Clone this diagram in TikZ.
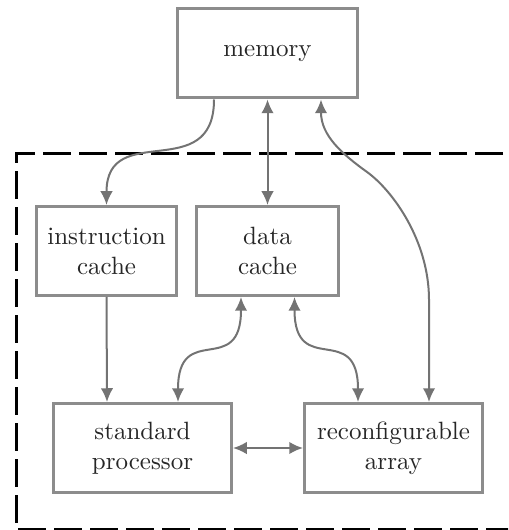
\documentclass[tikz,border=0pt]{standalone}
\usetikzlibrary{arrows.meta}
\begin{document}
\begin{tikzpicture}[x=0.4pt,y=-0.4pt,
  box/.style={draw=black!45,line width=1.2pt,fill=white,align=center,inner sep=0pt,
    minimum height=35.6pt,text=black!85,font=\normalsize},
  conn/.style={draw=black!55,line width=0.8pt},
  tip/.style={-{Latex[length=5.5pt,width=5pt]}},
  bitip/.style={{Latex[length=5.5pt,width=5pt]}-{Latex[length=5.5pt,width=5pt]}},
  region/.style={draw=black,line width=1.2pt,dash pattern=on 11.2pt off 3.2pt}]
\useasboundingbox (0,0) rectangle (508,530);
\clip (0,0) rectangle (508,530);
\draw[region] (539,154) -- (16,154) -- (16,529) -- (539,529);
\node[box,minimum width=72pt] (memory) at (267.5,53.5) {memory};
\node[box,minimum width=56pt] (icache) at (106.5,251) {instruction\\cache};
\node[box,minimum width=56.8pt] (dcache) at (267.5,251) {data\\cache};
\node[box,minimum width=71.2pt] (std) at (142.5,448) {standard\\processor};
\node[box,minimum width=71.2pt] (rca) at (393.5,448) {reconfigurable\\array};
\coordinate (bendA) at (367,172);
\coordinate (bendB) at (429,300);
\draw[conn,tip] ([xshift=-21.4pt]memory.south) .. controls +(0,86) and +(0,-86) .. (icache.north);
\draw[conn,bitip] (memory.south) -- (dcache.north);
\draw[conn,bitip] ([xshift=21.4pt]memory.south) .. controls +(0,36) and +(-25,-18) .. (bendA)
  .. controls +(25,18) and +(0,-60) .. (bendB) -- ([xshift=14.2pt]rca.north);
\draw[conn,tip] (icache.south) -- ([xshift=-14.2pt]std.north);
\draw[conn,bitip] ([xshift=-10.6pt]dcache.south) .. controls +(0,82) and +(0,-82) .. ([xshift=14.2pt]std.north);
\draw[conn,bitip] ([xshift=10.8pt]dcache.south) .. controls +(0,82) and +(0,-82) .. ([xshift=-14.2pt]rca.north);
\draw[conn,bitip] (std.east) -- (rca.west);
\end{tikzpicture}
\end{document}
